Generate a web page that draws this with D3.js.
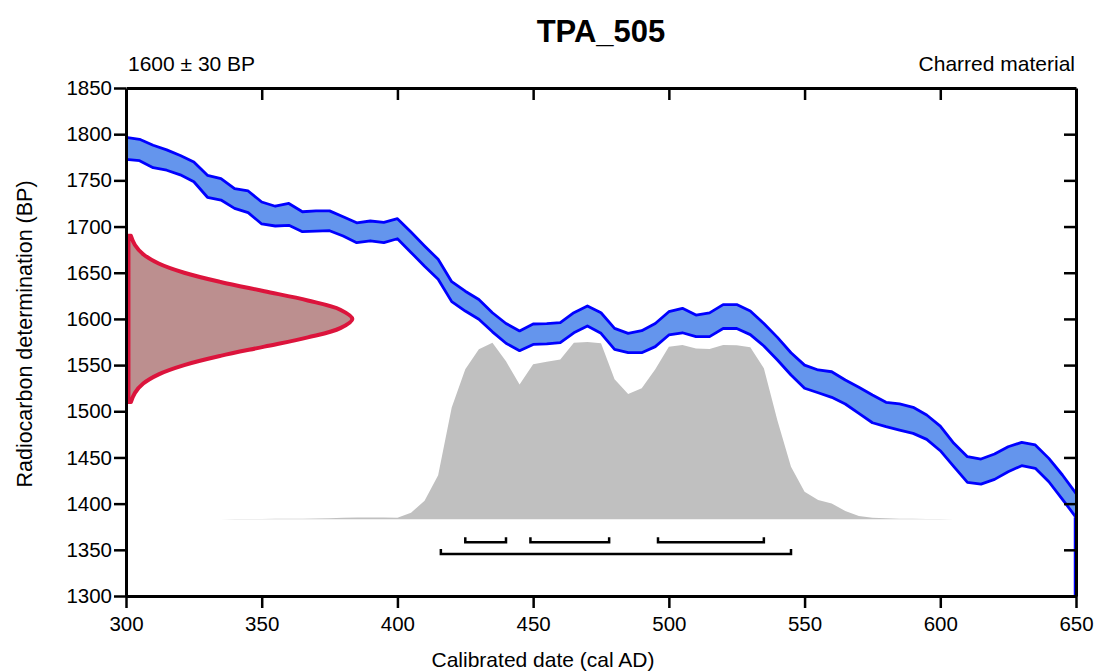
<!DOCTYPE html>
<html>
<head>
<meta charset="utf-8">
<script src="https://cdn.jsdelivr.net/npm/d3@7"></script>
<style>
    body { margin: 0; background: #fff; }
    svg { display: block; font-family: 'Liberation Sans', Arial, sans-serif; }
</style>
</head>
<body>
<svg id="chart" width="1095" height="671"></svg>
<script>
// sample info
const sampleName = 'TPA_505'
const sampleAge = 1600
const sampleError = 30
const sampleMaterial = 'Charred material'

// calibration curve, 5 year steps from 300 AD (upper / lower edge, BP)
const curveStart = 300
const curveStep = 5
const curveUpper = [
    1796.6, 1794.5, 1788, 1783, 1777, 1770, 1755.5, 1752, 1741, 1738.5,
    1726.6, 1722, 1725, 1716, 1717, 1717, 1710.7, 1704, 1706, 1704.6,
    1708.5, 1694, 1679, 1664.5, 1640.3, 1630, 1621, 1606.7, 1595, 1587,
    1594.5, 1595, 1596, 1606.7, 1614, 1606.7, 1589.8, 1584.4, 1587.3, 1595,
    1607.8, 1611.5, 1604.2, 1606.5, 1615.5, 1615.5, 1608.5, 1595, 1580, 1563.4,
    1550, 1544.7, 1542.8, 1533.8, 1526, 1517.6, 1509.7, 1507.9, 1504.3, 1496,
    1484, 1465.3, 1450.8, 1448.3, 1453.7, 1461.6, 1466.4, 1463.5, 1449, 1431,
    1411
]
const curveLower = [
    1772.8, 1771.3, 1763.7, 1761, 1756, 1748.5, 1731.7, 1728.7, 1719.7, 1715,
    1702.8, 1700.6, 1701.3, 1694.4, 1695, 1695.5, 1689.8, 1682.5, 1684.6, 1682.5,
    1686.8, 1672, 1657, 1643, 1618.7, 1608.5, 1599.6, 1586, 1573.6, 1565.6,
    1572.4, 1573, 1574.3, 1585, 1592.3, 1584.4, 1567, 1563.4, 1563.4, 1570,
    1582.6, 1585, 1580.8, 1580.8, 1589.6, 1589.6, 1583, 1570.7, 1555.5, 1539.3,
    1524.9, 1520.1, 1515.1, 1507.9, 1497.8, 1487.6, 1483.3, 1479.7, 1476.1, 1469.6,
    1457.3, 1440, 1423.1, 1421.2, 1426.3, 1434.6, 1441.1, 1438.3, 1423.7, 1404.7,
    1385.2
]

// calibrated probability (relative), 5 year steps from 330 AD
const probStart = 330
const probStep = 5
const probValues = [
    0.0005, 0.001, 0.0015, 0.002, 0.0025, 0.003, 0.004, 0.004, 0.005, 0.006,
    0.009, 0.011, 0.010, 0.010, 0.009, 0.037, 0.105, 0.248, 0.63, 0.846,
    0.959, 0.996, 0.891, 0.761, 0.874, 0.889, 0.902, 0.996, 1.0, 0.993,
    0.79, 0.707, 0.739, 0.846, 0.973, 0.983, 0.964, 0.96, 0.983, 0.981,
    0.97, 0.852, 0.558, 0.297, 0.156, 0.109, 0.09, 0.047, 0.019, 0.009,
    0.006, 0.004, 0.003, 0.0025, 0.002, 0.001, 0.0005
]

// radiocarbon measurement density (relative), BP values
const measBP = [1510, 1520, 1530, 1540, 1550, 1560, 1570, 1580, 1590, 1600,
    1610, 1620, 1630, 1640, 1650, 1660, 1670, 1680, 1690]
const measDensity = [0.011, 0.029, 0.066, 0.135, 0.249, 0.411, 0.607, 0.801, 0.946, 1,
    0.946, 0.801, 0.607, 0.411, 0.249, 0.135, 0.066, 0.029, 0.011]

// highest posterior density ranges (cal AD)
const ranges68 = [[425, 440], [449, 478], [496, 535]]
const ranges95 = [[416, 545]]

// ticks
const xTicks = [300, 350, 400, 450, 500, 550, 600, 650]
const yTicks = [1300, 1350, 1400, 1450, 1500, 1550, 1600, 1650, 1700, 1750, 1800, 1850]

const svg = d3.select('#chart')

const x = d3.scaleLinear().domain([300, 650]).range([126, 1076])
const y = d3.scaleLinear().domain([1300, 1850]).range([596, 88])
// probability height scale for the calibrated distribution
const yProb = d3.scaleLinear().domain([0, 1]).range([y(1383), y(1575)])
// width scale for the measurement curve on the y axis
const xMeas = d3.scaleLinear().domain([0, 1]).range([x(300.9), x(383.4)])

let curveData = curveUpper.map(function (u, i) {
    return { year: curveStart + i * curveStep, upper: u, lower: curveLower[i] }
})
let probData = probValues.map(function (p, i) {
    return { year: probStart + i * probStep, p: p }
})
let measData = measBP.map(function (bp, i) {
    return { bp: bp, d: measDensity[i] }
})

svg.append('defs').append('clipPath').attr('id', 'plot-clip')
    .append('rect')
    .attr('x', x(300)).attr('y', y(1850))
    .attr('width', x(650) - x(300)).attr('height', y(1300) - y(1850))

// calibrated distribution
svg.append('path')
    .datum(probData)
    .attr('fill', '#c0c0c0')
    .attr('d', d3.area()
        .x(function (d) { return x(d.year) })
        .y0(yProb(0))
        .y1(function (d) { return yProb(d.p) }))

// calibration curve band
let band = svg.append('g').attr('clip-path', 'url(#plot-clip)')
band.append('path')
    .datum(curveData)
    .attr('fill', '#6495ed')
    .attr('d', d3.area()
        .x(function (d) { return x(d.year) })
        .y0(function (d) { return y(d.lower) })
        .y1(function (d) { return y(d.upper) }))
let edgeLine = d3.line()
    .x(function (d) { return x(d.year) })
band.append('path')
    .datum(curveData)
    .attr('fill', 'none').attr('stroke', '#0000ff').attr('stroke-width', 2.8)
    .attr('stroke-linejoin', 'round')
    .attr('d', edgeLine.y(function (d) { return y(d.upper) }))
band.append('path')
    .datum(curveData)
    .attr('fill', 'none').attr('stroke', '#0000ff').attr('stroke-width', 2.8)
    .attr('stroke-linejoin', 'round')
    .attr('d', edgeLine.y(function (d) { return y(d.lower) }))
// curve runs off along the right edge
band.append('line')
    .attr('x1', x(650) - 1).attr('x2', x(650) - 1)
    .attr('y1', y(curveLower[curveLower.length - 1])).attr('y2', y(1300))
    .attr('stroke', '#0000ff').attr('stroke-width', 2.5)

// measurement on the y axis
svg.append('path')
    .datum(measData)
    .attr('fill', '#bc8f8f')
    .attr('stroke', '#dc143c')
    .attr('stroke-width', 4)
    .attr('stroke-linejoin', 'round')
    .attr('d', d3.area()
        .curve(d3.curveCatmullRom)
        .y(function (d) { return y(d.bp) })
        .x0(xMeas(0))
        .x1(function (d) { return xMeas(d.d) }))

// ranges
let rangeRows = [
    { rows: ranges68, bp: 1358.2 },
    { rows: ranges95, bp: 1345.6 },
]
rangeRows.forEach(function (r) {
    let yy = y(r.bp)
    svg.append('g').selectAll('path')
        .data(r.rows)
        .join('path')
        .attr('fill', 'none').attr('stroke', '#000').attr('stroke-width', 2.5)
        .attr('d', function (d) {
            return 'M' + x(d[0]) + ',' + (yy - 5) + 'V' + yy + 'H' + x(d[1]) + 'V' + (yy - 5)
        })
})

// axes
function styleAxis(g) {
    g.select('.domain').attr('stroke-width', 3)
    g.selectAll('.tick line').attr('stroke-width', 2.5)
    g.selectAll('.tick text').attr('font-size', 20.5).attr('fill', '#000')
        .attr('font-family', "'Liberation Sans', Arial, sans-serif")
}
svg.append('g')
    .attr('transform', 'translate(0,' + y(1300) + ')')
    .call(d3.axisBottom(x).tickValues(xTicks).tickFormat(d3.format('d'))
        .tickSize(12).tickSizeOuter(0).tickPadding(8))
    .call(styleAxis)
svg.append('g')
    .attr('transform', 'translate(' + x(300) + ',0)')
    .call(d3.axisLeft(y).tickValues(yTicks).tickFormat(d3.format('d'))
        .tickSize(12).tickSizeOuter(0).tickPadding(2))
    .call(styleAxis)
svg.append('g')
    .attr('transform', 'translate(0,' + y(1850) + ')')
    .call(d3.axisTop(x).tickValues(xTicks.slice(1, -1)).tickSize(-12).tickSizeOuter(0).tickFormat(''))
    .call(styleAxis)
svg.append('g')
    .attr('transform', 'translate(' + x(650) + ',0)')
    .call(d3.axisRight(y).tickValues(yTicks.slice(1, -1)).tickSize(-12).tickSizeOuter(0).tickFormat(''))
    .call(styleAxis)

// texts
svg.append('text')
    .attr('x', (x(300) + x(650)) / 2).attr('y', 42)
    .attr('text-anchor', 'middle')
    .attr('font-size', 31).attr('font-weight', 'bold')
    .text(sampleName)
svg.append('text')
    .attr('x', x(300) + 2).attr('y', 71)
    .attr('font-size', 21)
    .text(sampleAge + ' \u00b1 ' + sampleError + ' BP')
svg.append('text')
    .attr('x', x(650) - 1).attr('y', 71)
    .attr('text-anchor', 'end')
    .attr('font-size', 21)
    .text(sampleMaterial)
svg.append('text')
    .attr('x', 543).attr('y', 667)
    .attr('text-anchor', 'middle')
    .attr('font-size', 21)
    .text('Calibrated date (cal AD)')
svg.append('text')
    .attr('transform', 'translate(32,334) rotate(-90)')
    .attr('text-anchor', 'middle')
    .attr('font-size', 21.5)
    .text('Radiocarbon determination (BP)')
</script>
</body>
</html>
